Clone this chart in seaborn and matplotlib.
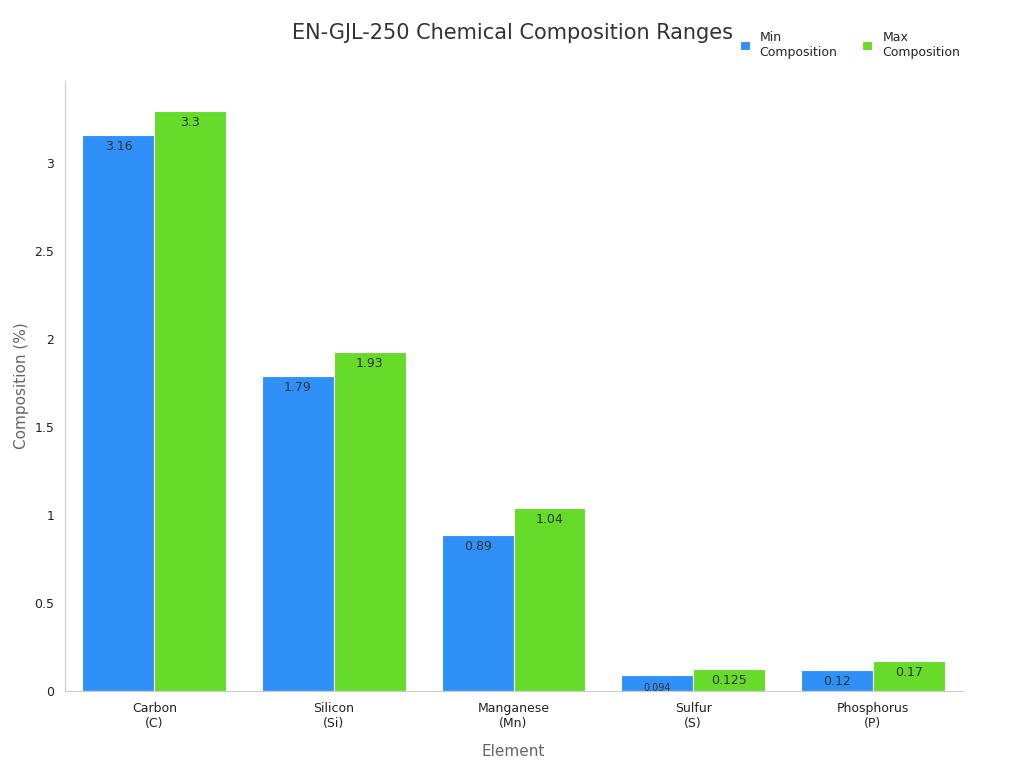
import matplotlib
matplotlib.use("Agg")
import matplotlib.pyplot as plt
import pandas as pd
import seaborn as sns

elements = ["Carbon\n(C)", "Silicon\n(Si)", "Manganese\n(Mn)", "Sulfur\n(S)", "Phosphorus\n(P)"]
min_comp = [3.16, 1.79, 0.89, 0.094, 0.12]
max_comp = [3.3, 1.93, 1.04, 0.125, 0.17]
series = ["Min\nComposition", "Max\nComposition"]

df = pd.DataFrame({
    "Element": elements * 2,
    "Composition": min_comp + max_comp,
    "Series": [series[0]] * 5 + [series[1]] * 5,
})

sns.set_style("white")
fig, ax = plt.subplots(figsize=(10.24, 7.68), dpi=100)
sns.barplot(data=df, x="Element", y="Composition", hue="Series",
            palette=["#2f91f8", "#67db2a"], saturation=1, width=0.8,
            edgecolor="white", linewidth=0.8, ax=ax)

for cont in ax.containers:
    labels = [("%g" % v) for v in cont.datavalues]
    ax.bar_label(cont, labels=labels, label_type="edge", padding=-13,
                 fontsize=9, color="#333333")
# smaller label for sulfur min
for t in ax.texts:
    if t.get_text() == "0.094":
        t.set_fontsize(7)

ax.set_yticks([0, 0.5, 1, 1.5, 2, 2.5, 3])
ax.set_yticklabels(["0", "0.5", "1", "1.5", "2", "2.5", "3"])
ax.set_ylim(0, 3.47)
ax.tick_params(labelsize=9, colors="#222222")
ax.set_xlabel("Element", fontsize=11, color="#666666", labelpad=10)
ax.set_ylabel("Composition (%)", fontsize=11, color="#666666")
for s in ["top", "right"]:
    ax.spines[s].set_visible(False)
for s in ["left", "bottom"]:
    ax.spines[s].set_color("#cccccc")
ax.tick_params(axis="both", length=4, color="#cccccc")

fig.suptitle("EN-GJL-250 Chemical Composition Ranges", fontsize=15,
             color="#333333", x=0.5, y=0.97)
ax.legend(loc="upper right", bbox_to_anchor=(1.01, 1.10), ncol=2, frameon=False,
          fontsize=9, handlelength=0.8, handleheight=0.8)

fig.subplots_adjust(left=0.063, right=0.94, top=0.895, bottom=0.1)
fig.savefig("out.png", dpi=100)
